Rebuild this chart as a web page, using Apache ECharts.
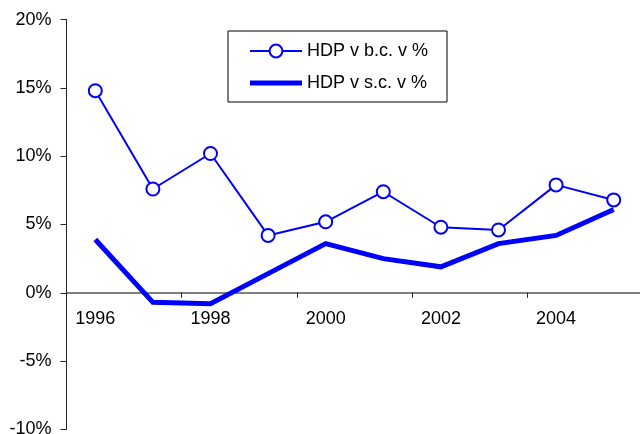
<!DOCTYPE html>
<html>
<head>
<meta charset="utf-8">
<script src="https://cdn.jsdelivr.net/npm/echarts@6/dist/echarts.min.js"></script>
<style>
  html, body { margin: 0; padding: 0; background: #fff; }
  #chart { width: 640px; height: 434px; }
</style>
</head>
<body>
<div id="chart"></div>
<script>
// Years on the category axis
const years = ['1996', '1997', '1998', '1999', '2000', '2001', '2002', '2003', '2004', '2005'];
// HDP growth, current prices (b.c.), %
const hdpBc = [14.8, 7.6, 10.2, 4.2, 5.2, 7.4, 4.8, 4.6, 7.9, 6.8];
// HDP growth, constant prices (s.c.), %
const hdpSc = [3.9, -0.7, -0.8, 1.4, 3.6, 2.5, 1.9, 3.6, 4.2, 6.1];
// Series names shown in the legend
const seriesNames = ['HDP v b.c. v %', 'HDP v s.c. v %'];
// Value axis range
const yMin = -10, yMax = 20, yStep = 5;

const FONT = '"Liberation Sans", Arial, sans-serif';
const BLUE = '#0000FF';

const gridTop = 19.7, gridHeight = 409.6;
// the category axis sits on the zero line: shift it up from the grid bottom
const zeroShift = gridHeight * (0 - yMin) / (yMax - yMin);

const chart = echarts.init(document.getElementById('chart'), null, { renderer: 'canvas' });
chart.setOption({
  animation: false,
  backgroundColor: '#ffffff',
  textStyle: { fontFamily: FONT, color: '#000' },
  grid: { left: 66.5, top: gridTop, width: 576, height: gridHeight, containLabel: false, outerBoundsMode: 'none' },
  legend: {
    orient: 'vertical',
    left: 228,
    top: 31,
    padding: [11, 19, 10, 21],
    itemGap: 14,
    itemWidth: 52,
    itemHeight: 16,
    symbolKeepAspect: true,
    borderColor: '#000',
    borderWidth: 1,
    backgroundColor: '#fff',
    textStyle: { fontFamily: FONT, fontSize: 18, color: '#000' },
    data: [
      { name: seriesNames[0], lineStyle: { width: 2 } },
      // plain thick bar for the constant-price line
      { name: seriesNames[1], icon: 'path://M0 0H52V5H0Z' }
    ]
  },
  xAxis: {
    type: 'category',
    data: years,
    boundaryGap: true,
    position: 'bottom',
    offset: -zeroShift,
    axisLine: { onZero: false, lineStyle: { color: '#555', width: 1.5 } },
    axisTick: { show: true, length: 5, inside: false, lineStyle: { color: '#222' } },
    axisLabel: { interval: 1, margin: 17, fontFamily: FONT, fontSize: 18, color: '#000' },
    splitLine: { show: false }
  },
  yAxis: {
    type: 'value',
    min: yMin,
    max: yMax,
    interval: yStep,
    axisLine: { show: true, onZero: false, lineStyle: { color: '#222', width: 1 } },
    axisTick: { show: true, length: 6, lineStyle: { color: '#222' } },
    axisLabel: { margin: 15, fontFamily: FONT, fontSize: 18, color: '#000', formatter: '{value}%' },
    splitLine: { show: false }
  },
  series: [
    {
      name: seriesNames[0],
      type: 'line',
      data: hdpBc,
      symbol: 'circle',
      symbolSize: 13,
      showAllSymbol: true,
      lineStyle: { color: BLUE, width: 2 },
      itemStyle: { color: '#fff', borderColor: BLUE, borderWidth: 2 },
      z: 3
    },
    {
      name: seriesNames[1],
      type: 'line',
      data: hdpSc,
      symbol: 'none',
      lineStyle: { color: BLUE, width: 5, join: 'miter' },
      itemStyle: { color: BLUE },
      z: 2
    }
  ]
});
</script>
</body>
</html>
